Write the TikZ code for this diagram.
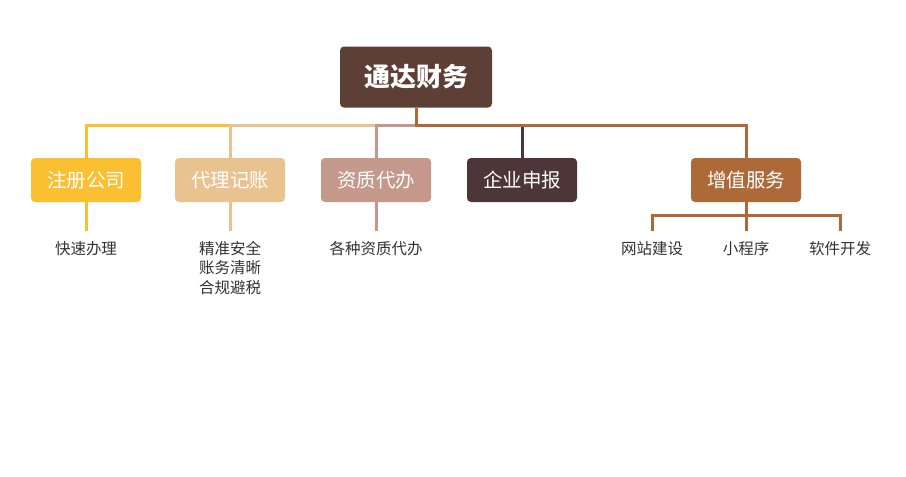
\documentclass[tikz,border=0pt]{standalone}
\usepackage{fontspec}
\setmainfont{Noto Sans CJK SC}
\newfontfamily\cjk{Noto Sans CJK SC}
\definecolor{cRoot}{HTML}{5E3F35}
\definecolor{cYel}{HTML}{FBBF32}
\definecolor{cTan}{HTML}{E8C38F}
\definecolor{cPink}{HTML}{C4998B}
\definecolor{cDark}{HTML}{4E3537}
\definecolor{cBrown}{HTML}{AD6938}
\definecolor{cText}{HTML}{333333}
\tikzset{
  rootbox/.style={fill=cRoot, rounded corners=4pt, minimum width=152pt, minimum height=61pt,
    text=white, font=\cjk\bfseries\fontsize{26}{30}\selectfont, inner sep=0pt},
  kidbox/.style={fill=#1, rounded corners=4pt, minimum width=110pt, minimum height=44pt,
    text=white, font=\cjk\fontsize{19.5}{23}\selectfont, inner sep=0pt},
  leaf/.style={anchor=north, inner xsep=0pt, inner ysep=10pt, text=cText, align=center,
    font=\cjk\fontsize{15.5}{19.5}\selectfont},
  edge/.style={draw=#1, line width=3pt},
}
\begin{document}
\begin{tikzpicture}[x=1pt,y=-1pt]
\useasboundingbox (0,0) rectangle (906,477);
\fill[white] (0,0) rectangle (906,477);
\coordinate (bus) at (0,125.5);
\coordinate (vbus) at (0,215);
\node[rootbox] (root) at (416,77) {通达财务};
\node[kidbox=cYel] (c1) at (86,180) {注册公司};
\node[kidbox=cTan] (c2) at (230,180) {代理记账};
\node[kidbox=cPink] (c3) at (376,180) {资质代办};
\node[kidbox=cDark] (c4) at (522,180) {企业申报};
\node[kidbox=cBrown] (c5) at (746,180) {增值服务};
% edges root -> children
\draw[edge=cYel] (root.south) -- (root.south |- bus) -| (c1.north);
\draw[edge=cTan] (root.south) -- (root.south |- bus) -| (c2.north);
\draw[edge=cPink] (root.south) -- (root.south |- bus) -| (c3.north);
\draw[edge=cDark] (root.south) -- (root.south |- bus) -| (c4.north);
\draw[edge=cBrown] (root.south) -- (root.south |- bus) -| (c5.north);
% leaves
\node[leaf] (l1) at (86,231) {快速办理};
\node[leaf] (l2) at (230,231) {精准安全\\账务清晰\\合规避税};
\node[leaf] (l3) at (376,231) {各种资质代办};
\node[leaf] (l5a) at (652,231) {网站建设};
\node[leaf] (l5b) at (746,231) {小程序};
\node[leaf] (l5c) at (840,231) {软件开发};
\draw[edge=cYel] (c1.south) -- (l1.north);
\draw[edge=cTan] (c2.south) -- (l2.north);
\draw[edge=cPink] (c3.south) -- (l3.north);
\draw[edge=cBrown] (c5.south) -- (c5.south |- vbus) -| (l5a.north);
\draw[edge=cBrown] (c5.south) -- (c5.south |- vbus) -| (l5b.north);
\draw[edge=cBrown] (c5.south) -- (c5.south |- vbus) -| (l5c.north);
\end{tikzpicture}
\end{document}
